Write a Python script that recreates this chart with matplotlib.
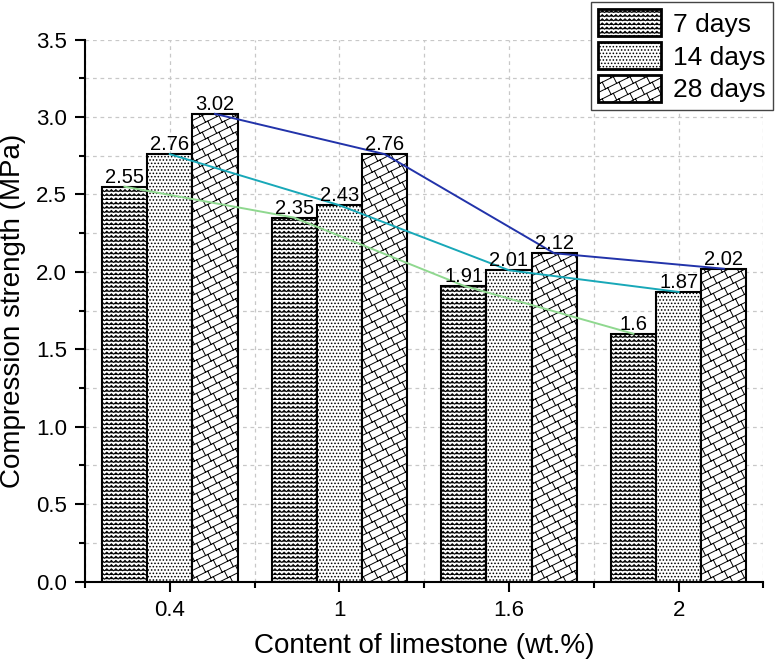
import numpy as np
import matplotlib
matplotlib.use('Agg')
import matplotlib.pyplot as plt
import matplotlib.hatch as mhatch
from matplotlib.path import Path

# data
contents = ['0.4', '1', '1.6', '2']
series = ['7 days', '14 days', '28 days']
days7 = [2.55, 2.35, 1.91, 1.6]
days14 = [2.76, 2.43, 2.01, 1.87]
days28 = [3.02, 2.76, 2.12, 2.02]


# zigzag hatch, takes the place of the plain horizontal one ('-')
class ZigZagHatch(mhatch.HatchPatternBase):
    def __init__(self, hatch, density):
        self.num_lines = int(hatch.count('-') * density)
        self.n = 2 * 22 + 1
        self.num_vertices = self.num_lines * self.n

    def set_vertices_and_codes(self, vertices, codes):
        x = np.linspace(0, 1, self.n)
        amp = 0.5 / self.num_lines
        for i in range(self.num_lines):
            seg = slice(i * self.n, (i + 1) * self.n)
            vertices[seg, 0] = x
            vertices[seg, 1] = i / self.num_lines + amp * (np.arange(self.n) % 2)
            codes[seg] = Path.LINETO
            codes[i * self.n] = Path.MOVETO


# slanted brick hatch, takes the place of the vertical one ('|')
class BrickHatch(mhatch.HatchPatternBase):
    def __init__(self, hatch, density):
        segs = []
        if '|' in hatch:
            N, M = 12, 9
            for k in range(-N // 2 - 1, N + 2):
                c = k / N
                # long lines, slope 1/2
                segs.append(((0, c), (1, 0.5 + c)))
                # short joints between this line and the next
                for j in range(-1, M + 2):
                    x0 = (j + 0.5 * (k % 2)) / M
                    y0 = x0 / 2 + c
                    segs.append(((x0, y0), (x0 - 0.4 / N, y0 + 0.8 / N)))
        self.segs = segs
        self.num_vertices = 2 * len(segs)

    def set_vertices_and_codes(self, vertices, codes):
        for i, (a, b) in enumerate(self.segs):
            vertices[2 * i] = a
            vertices[2 * i + 1] = b
            codes[2 * i] = Path.MOVETO
            codes[2 * i + 1] = Path.LINETO


mhatch._hatch_types[0] = ZigZagHatch
mhatch._hatch_types[1] = BrickHatch

plt.rcParams['font.family'] = ['Liberation Sans', 'DejaVu Sans']
plt.rcParams['hatch.linewidth'] = 0.7

fig = plt.figure(figsize=(7.79, 6.70), dpi=100)
ax = fig.add_axes([0.109, 0.132, 0.871, 0.809])

x = np.arange(len(contents))
w = 0.8 / 3
values = [days7, days14, days28]
hatches = ['----', '.....', '|']
line_colors = ['#8fd88f', '#18a8b8', '#2233aa']

for i, (name, vals) in enumerate(zip(series, values)):
    pos = x + (i - 1) * w
    ax.bar(pos, vals, w, color='white', edgecolor='black', linewidth=1.5,
           hatch=hatches[i], label=name, zorder=2)
    ax.plot(pos, vals, color=line_colors[i], linewidth=1.4, zorder=3)
    for px, v in zip(pos, vals):
        ax.annotate(f'{v:g}', (px, v), xytext=(0, 0), textcoords='offset points',
                    ha='center', va='bottom', fontsize=14.5, zorder=4)

ax.set_xlim(-0.5, 3.5)
ax.set_ylim(0, 3.5)
ax.set_xticks(x)
ax.set_xticklabels(contents)
ax.set_xticks(np.arange(-0.5, 3.6, 1), minor=True)
ax.set_yticks(np.arange(0, 3.51, 0.5))
ax.set_yticks(np.arange(0.25, 3.5, 0.5), minor=True)
ax.yaxis.set_major_formatter(matplotlib.ticker.FormatStrFormatter('%.1f'))

for s in ['top', 'right']:
    ax.spines[s].set_visible(False)
for s in ['left', 'bottom']:
    ax.spines[s].set_linewidth(1.5)
ax.tick_params(which='major', length=7, width=1.5, labelsize=16,
               direction='out', pad=6)
ax.tick_params(which='minor', length=4, width=1.5, direction='out')

ax.grid(True, which='both', linestyle=(0, (3, 3)), color='#c8c8c8',
        linewidth=0.9, zorder=0)
ax.set_axisbelow(True)

ax.set_xlabel('Content of limestone (wt.%)', fontsize=20, labelpad=9)
ax.set_ylabel('Compression strength (MPa)', fontsize=20, labelpad=7)

leg = ax.legend(loc='upper right', bbox_to_anchor=(0.9925, 0.997),
                bbox_transform=fig.transFigure, fontsize=19, fancybox=False,
                framealpha=1, edgecolor='#444444', handlelength=2.4,
                handleheight=1.2, handletextpad=0.45, borderpad=0.28,
                labelspacing=0.2, borderaxespad=0)
for h in leg.legend_handles:
    h.set_linewidth(2)

fig.savefig('out.png', dpi=100)
